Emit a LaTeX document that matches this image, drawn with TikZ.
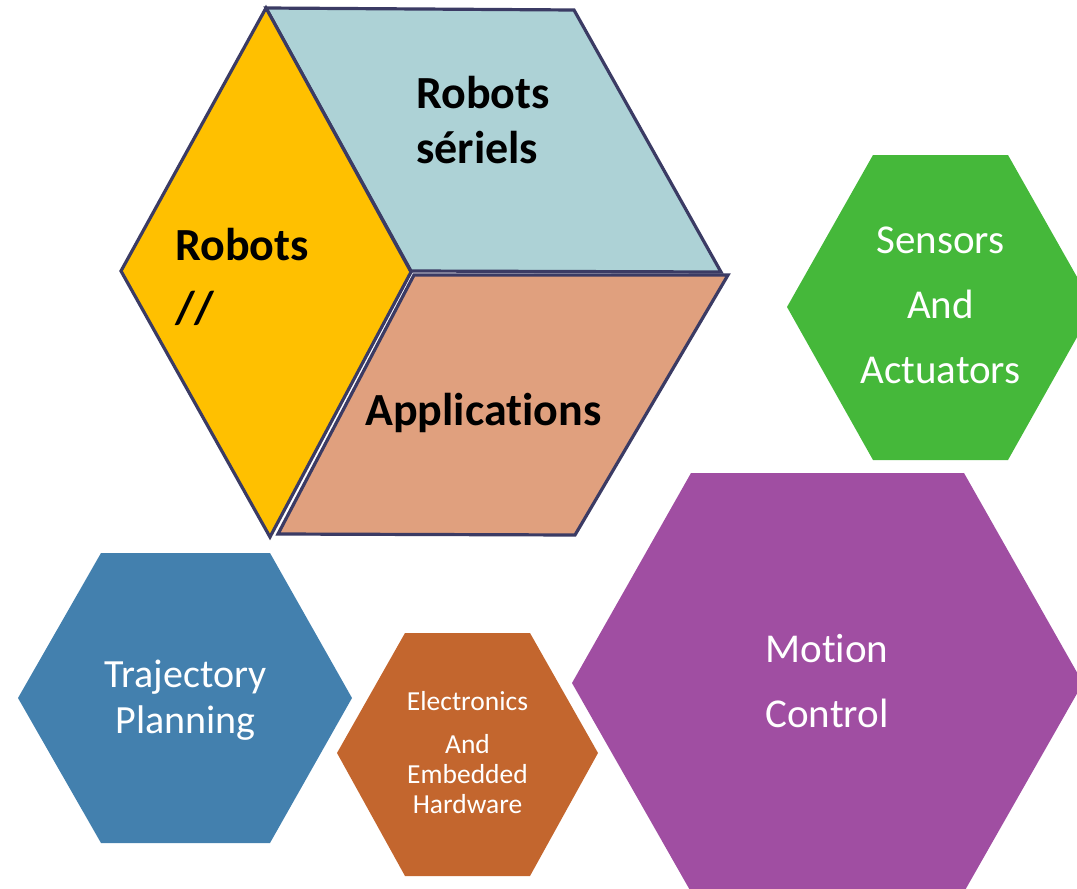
\documentclass[tikz,border=0pt]{standalone}
\usepackage{fontspec}
\setmainfont{Carlito}[Ligatures=NoCommon]
\definecolor{edge}{HTML}{3B3B64}
\definecolor{cubeyellow}{HTML}{FFC000}
\definecolor{cubeblue}{HTML}{ADD2D6}
\definecolor{cubepeach}{HTML}{E0A07E}
\definecolor{hexgreen}{HTML}{45B83A}
\definecolor{hexblue}{HTML}{4380AE}
\definecolor{hexrust}{HTML}{C3662E}
\definecolor{hexpurple}{HTML}{A04EA2}

\begin{document}
\begin{tikzpicture}[scale=1,
  face/.style={draw=edge, line width=3.2pt, line join=miter},
  tag/.style={inner sep=0pt, align=left, font=\fontsize{46}{55}\selectfont\bfseries},
  hexlbl/.style={inner sep=0pt, align=center, text=white}]

 \begin{scope} [x = {(1pt,0)},
   y = {(0,-1pt)}]

  \useasboundingbox (0,0) rectangle (1077,889);
  \clip (0,0) rectangle (1077,889);

  \filldraw[face, fill=cubeblue] (266,8) -- (574,10) -- (721,272) -- (411,271) -- cycle;
  \filldraw[face, fill=cubepeach] (414,275) -- (728,275) -- (575,535) -- (278,534) -- cycle;
  \filldraw[face, fill=cubeyellow] (266,8) -- (411,272) -- (270,537) -- (121,271) -- cycle;

  \node[tag, anchor=base west] (seriels) at (416,163) {Robots\\sériels};
  \node[tag, anchor=base west, font=\fontsize{46}{63}\selectfont\bfseries] (paral) at (175,323) {Robots\\//};
  \node[tag, anchor=base west] (appli) at (365,425) {Applications};

  \fill[hexgreen] (873,155) -- (1008,155) -- (1094,307) -- (1008,460) -- (873,460) -- (787,307) -- cycle;
  \fill[hexblue] (101,553) -- (270,553) -- (352,698) -- (270,843) -- (101,843) -- (18,698) -- cycle;
  \fill[hexrust] (405,633) -- (530,633) -- (598,753) -- (530,876) -- (405,876) -- (337,753) -- cycle;
  \fill[hexpurple] (691,473) -- (964,473) -- (1083,683) -- (964,892) -- (691,892) -- (572,683) -- cycle;

  \node[hexlbl, anchor=base, font=\fontsize{41}{65}\selectfont] (sensors) at (940.5,383.5) {Sensors\\And\\Actuators};
  \node[hexlbl, anchor=base, font=\fontsize{41}{65}\selectfont] (motion) at (827,727) {Motion\\Control};
  \node[hexlbl, anchor=base, font=\fontsize{40}{46}\selectfont] (traj) at (185.5,733) {Trajectory\\Planning};
  \node[hexlbl, anchor=base, font=\fontsize{27.5}{30}\selectfont] (elec) at (467.5,813.5) {Electronics\\[12.7pt]And\\Embedded\\Hardware};

 \end{scope}
\end{tikzpicture}
\end{document}
